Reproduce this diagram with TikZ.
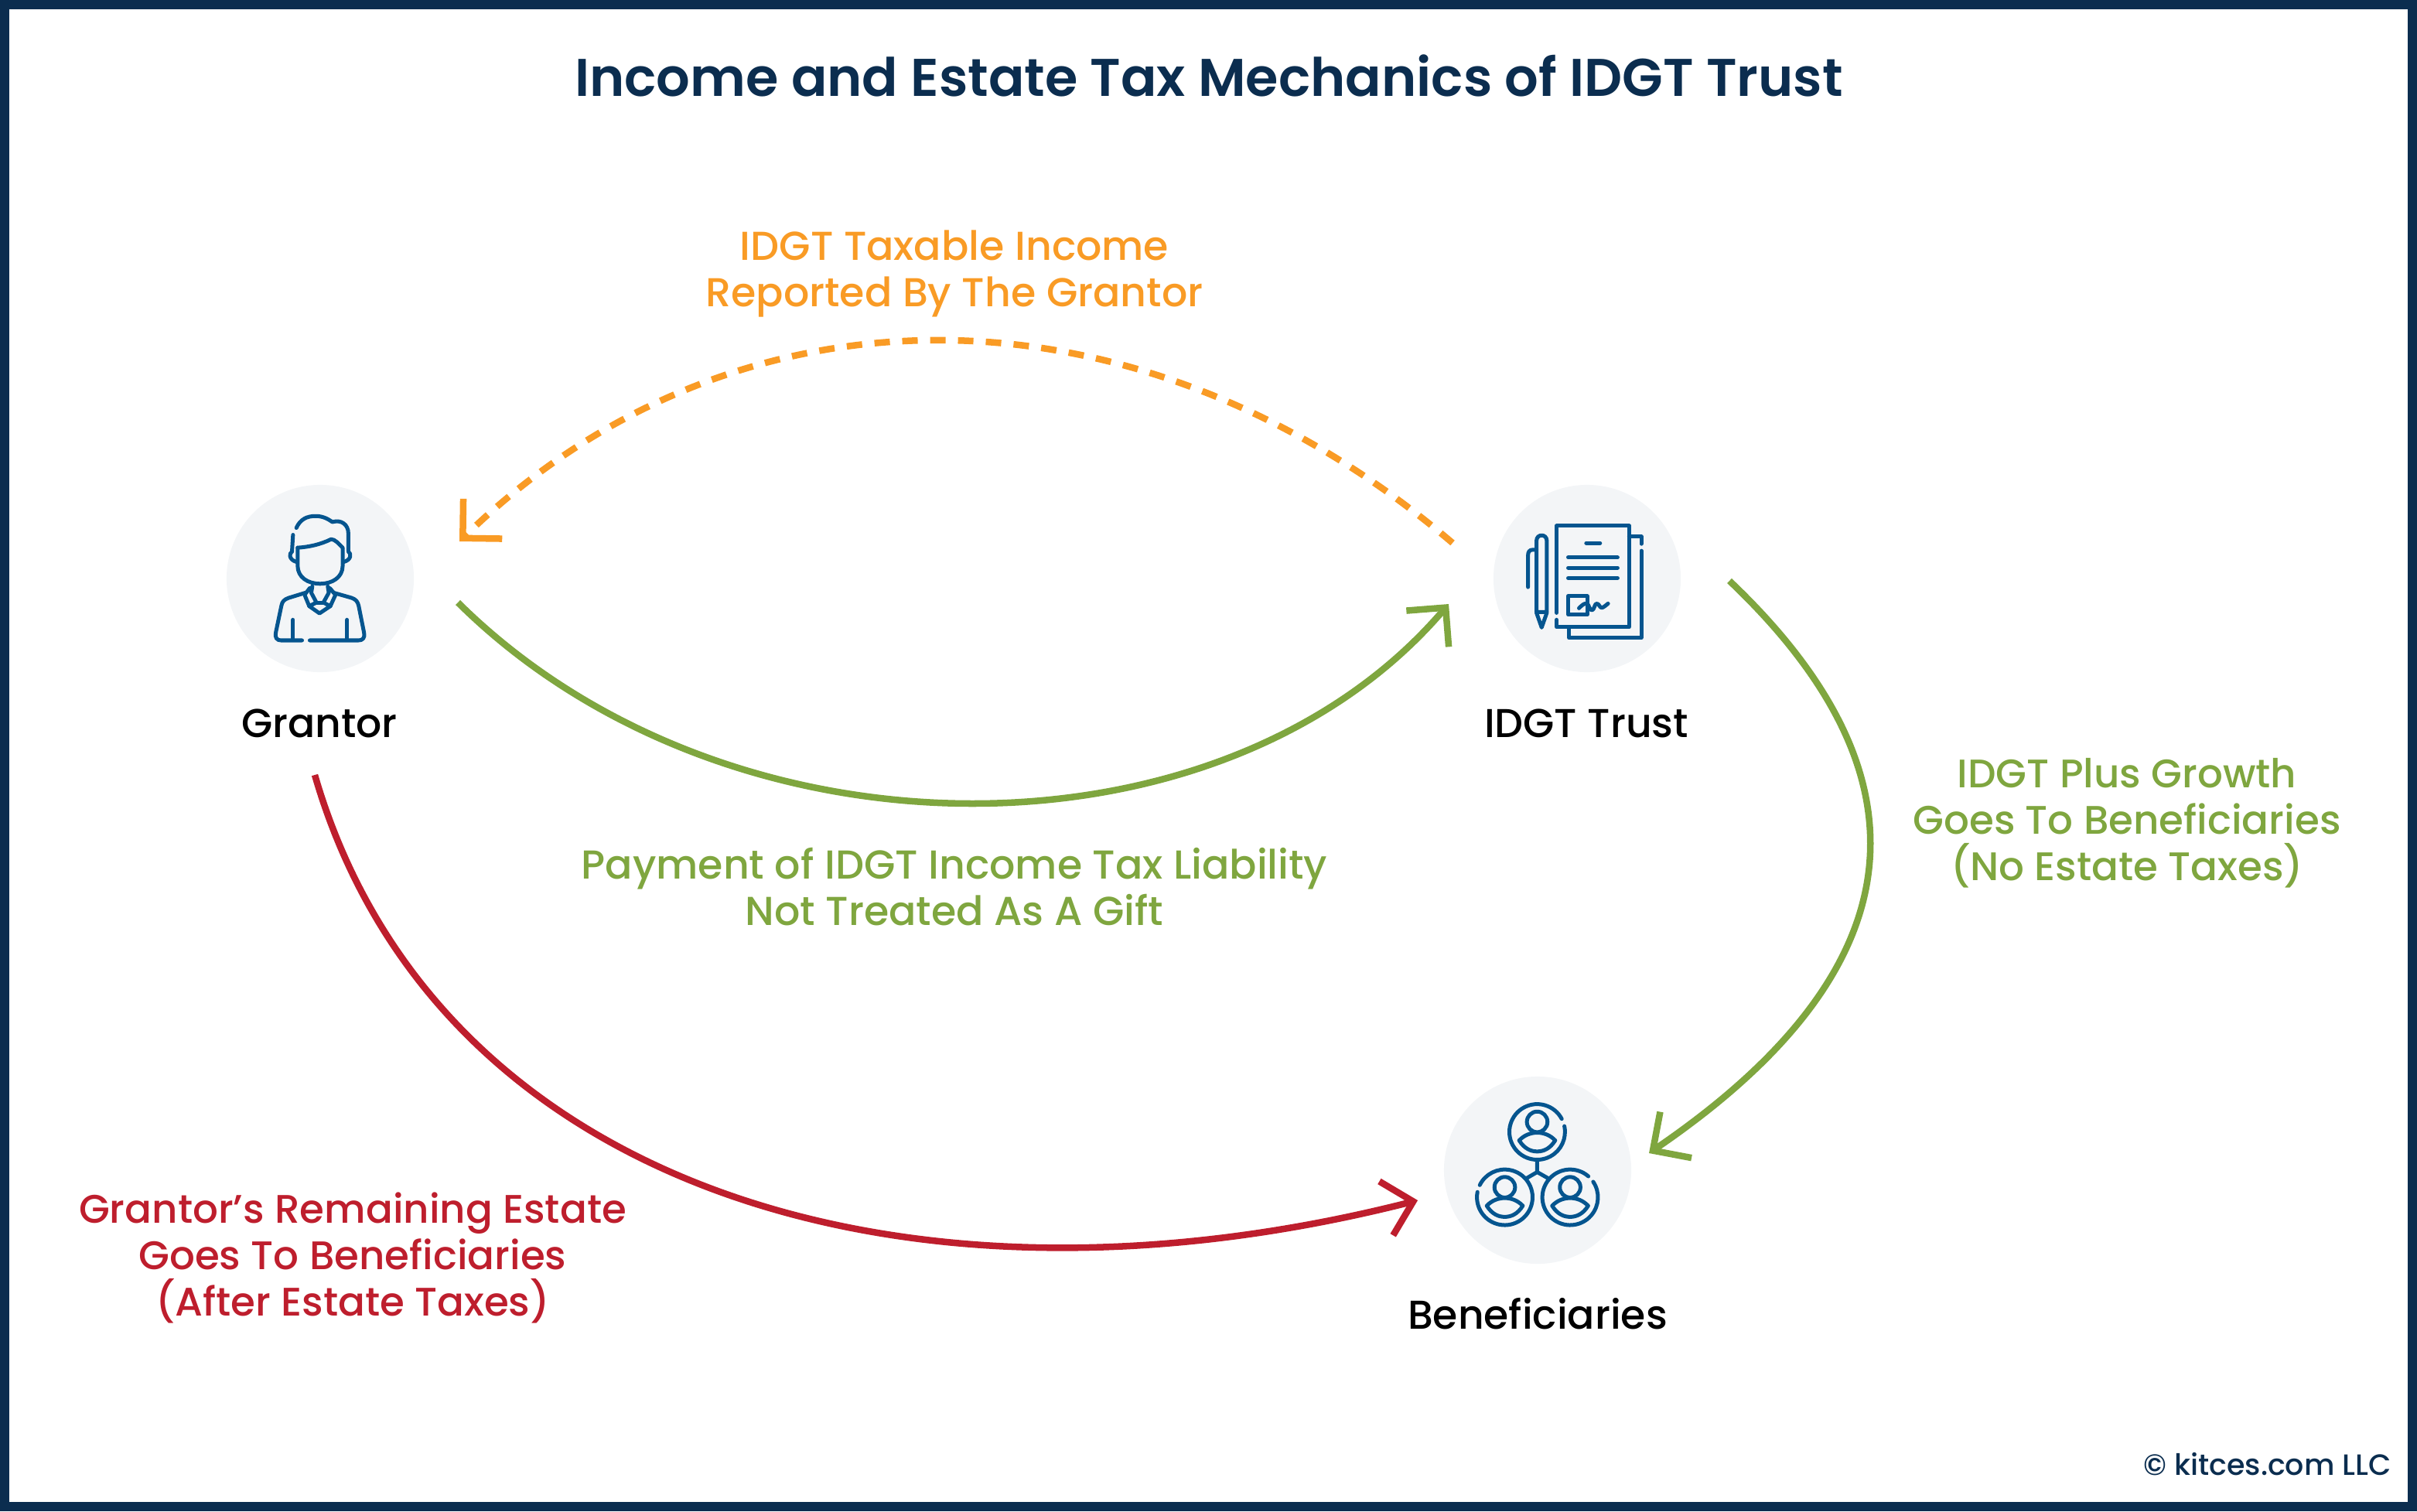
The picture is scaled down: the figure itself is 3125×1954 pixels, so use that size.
\documentclass[tikz,border=0pt]{standalone}
\usepackage{fontspec}
\setmainfont{Poppins}[UprightFont=* Medium,BoldFont=* SemiBold]
\usetikzlibrary{arrows.meta}
\definecolor{framenavy}{HTML}{0B2D4F}
\definecolor{iconblue}{HTML}{05558F}
\definecolor{discgrey}{HTML}{F3F5F7}
\definecolor{taxorange}{HTML}{F99B25}
\definecolor{taxgreen}{HTML}{7FA63F}
\definecolor{taxred}{HTML}{BE1E2D}
\tikzset{
    disc/.style={circle,fill=discgrey,minimum size=2.42cm,inner sep=0pt},
    name label/.style={font=\fontsize{14.8}{17}\selectfont,text=black},
    flow label/.style={font=\fontsize{14.85}{17.07}\selectfont,align=center},
    side label/.style={font=\fontsize{14.65}{17.07}\selectfont,align=center},
    flow/.style={line width=0.085cm,-{Straight Barb[length=0.36cm,width=0.72cm,line width=0.085cm]}},
    icon/.style={draw=iconblue,line width=0.05cm,line cap=round,line join=round},
}
\begin{document}
\begin{tikzpicture}[x=0.01cm,y=-0.01cm]
    \useasboundingbox (0,0) rectangle (3125,1954);
    \draw[framenavy,line width=0.12cm] (6,6) rectangle (3119,1948);
    \node[text=framenavy,font=\fontsize{19.5}{22}\bfseries] (title) at (1563,98) {Income and Estate Tax Mechanics of IDGT Trust};
    % discs and their names
    \node[disc] (grantor) at (414,748) {};
    \node[disc] (trust) at (2052,748) {};
    \node[disc] (beneficiaries) at (1988,1513) {};
    \node[name label] (grantorname) at (413,935) {Grantor};
    \node[name label] (trustname) at (2051,935) {IDGT Trust};
    \node[name label] (beneficiariesname) at (1988,1699) {Beneficiaries};
    % grantor icon
    \begin{scope}[shift={(280,610)},x=0.003333cm,y=-0.003333cm]
        \draw[icon] (310,218) .. controls (325,185) and (350,172) .. (385,172) .. controls (415,172) and (435,185) .. (450,195) .. controls (485,185) and (512,205) .. (512,240) -- (512,305);
        \draw[icon] (297,245) -- (293,310);
        \draw[icon] (315,295) -- (315,365) .. controls (315,410) and (355,435) .. (402,435) .. controls (450,435) and (490,410) .. (490,365) -- (490,298);
        \draw[icon] (315,295) .. controls (360,292) and (405,282) .. (445,262) .. controls (460,262) and (475,280) .. (490,295);
        \draw[icon] (293,310) .. controls (280,318) and (282,342) .. (310,350);
        \draw[icon] (512,310) .. controls (525,318) and (523,342) .. (495,350);
        \draw[icon] (345,470) -- (280,490) .. controls (262,496) and (255,505) .. (252,520) -- (230,625) .. controls (226,645) and (235,655) .. (250,655) -- (332,655);
        \draw[icon] (455,470) -- (525,490) .. controls (542,496) and (548,505) .. (552,520) -- (573,625) .. controls (577,645) and (568,655) .. (552,655) -- (362,655);
        \draw[icon] (297,575) -- (297,650);
        \draw[icon] (507,575) -- (507,650);
        \draw[icon] (362,452) -- (342,478) -- (360,522) -- (388,508) -- (368,470) -- (372,445);
        \draw[icon] (440,452) -- (462,478) -- (442,522) -- (415,508) -- (436,470) -- (432,445);
        \draw[icon] (388,508) -- (415,508);
        \draw[icon] (360,522) -- (400,550) -- (442,522);
    \end{scope}
    % trust icon
    \begin{scope}[shift={(1920,610)},x=0.003333cm,y=-0.003333cm]
        \draw[icon] (278,548) -- (278,210) -- (560,210) -- (560,603) -- (278,603) -- (278,575);
        \draw[icon] (560,252) -- (607,252) -- (607,280);
        \draw[icon] (607,307) -- (607,645) -- (326,645) -- (326,603);
        \draw[icon] (393,277) -- (447,277);
        \foreach \i in {333,373,413}
        {
            \draw[icon] (323,\i) -- (515,\i);
        }
        \draw[icon] (397,530) -- (397,483) -- (323,483) -- (323,555) -- (397,555) -- (397,530);
        \draw[icon] (365,530) .. controls (375,520) and (385,510) .. (395,512) .. controls (405,515) and (405,538) .. (415,538) .. controls (425,538) and (425,510) .. (435,512) .. controls (445,514) and (445,530) .. (455,528) .. controls (462,526) and (470,518) .. (478,512);
        \draw[icon] (200,545) -- (200,268) .. controls (200,240) and (240,240) .. (240,268) -- (240,545) -- cycle;
        \draw[icon] (200,303) -- (185,303) .. controls (172,303) and (167,312) .. (167,325) -- (167,448);
        \draw[icon] (200,548) -- (220,605) -- (240,548);
    \end{scope}
    % beneficiaries icon
    \begin{scope}[shift={(1850,1380)},x=0.003333cm,y=-0.003333cm]
        \foreach \cx/\cy/\ga/\gb in {413/251/28/372,287/505/169/514,541/505/49/394}
        {
            \draw[icon] (\cx,\cy) ++(\ga:108 and -108) arc[start angle=\ga,end angle=\gb,x radius=108,y radius=-108];
            \draw[icon] (\cx,\cy-39) circle[radius=40];
            \draw[icon] (\cx-70,\cy+33) .. controls (\cx-50,\cy+12) and (\cx-25,\cy+3) .. (\cx,\cy+3) .. controls (\cx+25,\cy+3) and (\cx+50,\cy+12) .. (\cx+70,\cy+33) .. controls (\cx+50,\cy+65) and (\cx+25,\cy+76) .. (\cx,\cy+76) .. controls (\cx-25,\cy+76) and (\cx-50,\cy+65) .. (\cx-70,\cy+33) -- cycle;
        }
        \draw[icon] (413,362) -- (413,407) -- (370,432);
        \draw[icon] (413,407) -- (457,432);
    \end{scope}
    % flows
    \coordinate (trustout) at (1878,702);
    \coordinate (grantorin) at (594,700);
    \coordinate (grantorout) at (592,779);
    \coordinate (trustin) at (1873,781);
    \coordinate (trustdown) at (2236,751);
    \coordinate (benefright) at (2132,1491);
    \coordinate (grantordown) at (407,1002);
    \coordinate (benefleft) at (1833,1552);
    \draw[flow,taxorange,dash pattern=on 0.2cm off 0.16cm] (trustout) .. controls (1470,354) and (950,354) .. (grantorin);
    \draw[flow,taxgreen] (grantorout) .. controls (940,1124) and (1580,1124) .. (trustin);
    \draw[flow,taxgreen] (trustdown) .. controls (2493,995) and (2493,1245) .. (benefright);
    \draw[flow,taxred] (grantordown) .. controls (560,1530) and (1165,1722) .. (benefleft);
    % flow labels
    \node[flow label,text=taxorange] (incomelabel) at (1234,354) {IDGT Taxable Income\\Reported By The Grantor};
    \node[flow label,text=taxgreen] (paymentlabel) at (1234,1147) {Payment of IDGT Income Tax Liability\\Not Treated As A Gift};
    \node[side label,text=taxgreen] (growthlabel) at (2750,1064) {IDGT Plus Growth\\Goes To Beneficiaries\\(No Estate Taxes)};
    \node[side label,text=taxred] (estatelabel) at (456,1626) {Grantor’s Remaining Estate\\Goes To Beneficiaries\\(After Estate Taxes)};
    \node[anchor=east,font=\fontsize{10.8}{12}\selectfont,text=framenavy] (credit) at (3104,1893) {© kitces.com LLC};
\end{tikzpicture}
\end{document}
